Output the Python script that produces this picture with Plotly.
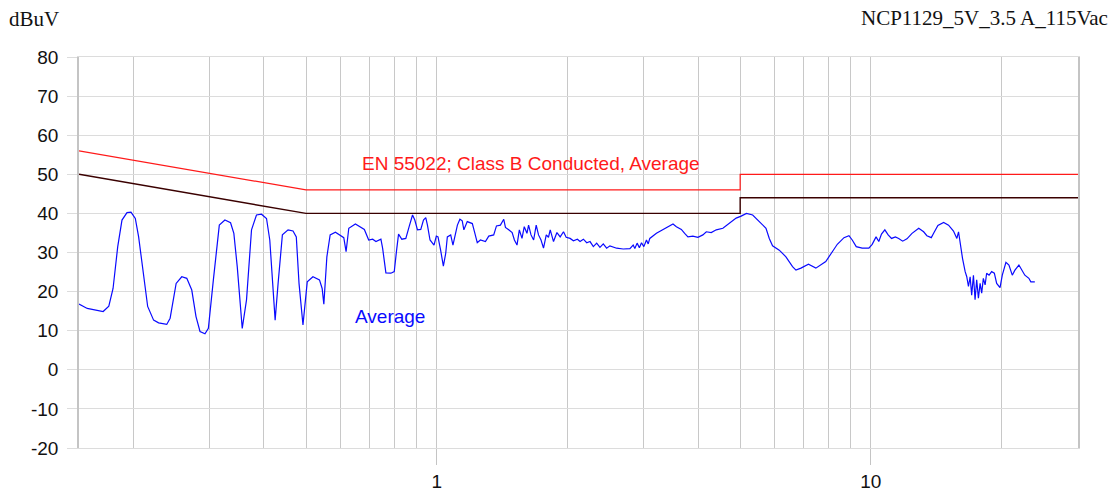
import math
import plotly.graph_objects as go

# ---- data ----
freq_mhz = [
    0.150, 0.1567, 0.1705, 0.1757, 0.1797, 0.1842, 0.1884, 0.1935, 0.1976, 0.2022,
    0.2058, 0.2106, 0.2159, 0.2228, 0.2288, 0.2389, 0.2432, 0.2511, 0.2587, 0.2657,
    0.2728, 0.2790, 0.2850, 0.2926, 0.2979, 0.3059, 0.3157, 0.3252, 0.3351, 0.3410,
    0.3472, 0.3565, 0.3647, 0.3745, 0.3845, 0.3948, 0.4055, 0.4126, 0.4245, 0.4312,
    0.4411, 0.4546, 0.4667, 0.4749, 0.4818, 0.4920, 0.5033, 0.5187, 0.5370, 0.5447,
    0.5496, 0.5585, 0.5683, 0.5844, 0.6022, 0.6109, 0.6184, 0.6273, 0.6497, 0.6694,
    0.6813, 0.6973, 0.7120, 0.7246, 0.7438, 0.7506, 0.7638, 0.7843, 0.7984, 0.8084,
    0.8168, 0.8312, 0.8489, 0.8640, 0.8797, 0.8903, 0.9031, 0.9190, 0.9322, 0.9436,
    0.9521, 0.9652, 0.9858, 0.998, 1.007, 1.021, 1.036, 1.049, 1.058, 1.077,
    1.090, 1.116, 1.131, 1.145, 1.155, 1.176, 1.208, 1.222, 1.240, 1.261,
    1.295, 1.318, 1.353, 1.373, 1.402, 1.427, 1.440, 1.465, 1.492, 1.510,
    1.531, 1.550, 1.572, 1.591, 1.614, 1.628, 1.649, 1.672, 1.695, 1.716,
    1.739, 1.762, 1.788, 1.809, 1.826, 1.858, 1.892, 1.925, 1.959, 1.987,
    2.029, 2.065, 2.109, 2.139, 2.177, 2.216, 2.255, 2.295, 2.336, 2.377,
    2.419, 2.463, 2.506, 2.597, 2.689, 2.786, 2.835, 2.860, 2.895, 2.930,
    2.963, 3.000, 3.042, 3.070, 3.096, 3.207, 3.321, 3.441, 3.502, 3.565,
    3.660, 3.725, 3.790, 3.892, 3.996, 4.103, 4.178, 4.289, 4.405, 4.562,
    4.726, 4.895, 5.026, 5.170, 5.343, 5.485, 5.632, 5.734, 5.835, 5.937,
    6.152, 6.374, 6.601, 6.721, 6.901, 7.183, 7.470, 7.873, 8.152, 8.370,
    8.672, 8.903, 9.060, 9.254, 9.550, 9.895, 10.07, 10.28, 10.43, 10.58,
    10.77, 10.96, 11.16, 11.39, 11.59, 11.84, 12.11, 12.44, 12.89, 13.23,
    13.46, 13.78, 13.95, 14.27, 14.71, 15.10, 15.50, 15.78, 15.92, 16.06,
    16.26, 16.49, 16.63, 16.78, 16.93, 17.07, 17.23, 17.38, 17.53, 17.69,
    17.85, 18.00, 18.16, 18.33, 18.48, 18.72, 18.98, 19.25, 19.49, 19.84,
    20.08, 20.47, 20.80, 21.17, 21.47, 21.93, 22.23, 22.63, 23.12, 23.36,
    23.86,
]
average_dbuv = [
    16.8, 15.7, 14.9, 16.3, 20.8, 31.5, 38.3, 40.2, 40.3, 38.7,
    34.0, 24.7, 16.2, 12.7, 12.0, 11.6, 13.2, 22.1, 23.8, 23.4,
    20.4, 13.6, 9.8, 9.2, 10.6, 23.0, 37.0, 38.3, 37.6, 34.9,
    26.4, 10.6, 17.9, 35.8, 39.6, 39.8, 38.7, 33.2, 12.7, 22.1,
    34.5, 35.8, 35.5, 34.0, 22.1, 11.5, 22.5, 23.8, 23.0, 20.8,
    16.8, 28.9, 34.5, 35.2, 34.2, 33.8, 30.2, 36.2, 37.3, 36.4,
    35.9, 33.2, 33.4, 32.8, 33.4, 31.1, 24.8, 24.7, 25.1, 30.6,
    34.7, 33.4, 33.6, 36.6, 39.6, 38.3, 35.8, 35.9, 38.3, 38.9,
    37.0, 33.2, 31.9, 34.2, 34.0, 30.6, 26.5, 29.8, 34.0, 34.5,
    31.9, 37.0, 38.5, 38.1, 35.8, 37.9, 37.4, 35.3, 32.5, 33.2,
    32.8, 34.2, 34.5, 36.8, 37.0, 38.5, 36.4, 35.8, 35.1, 33.2,
    31.9, 35.8, 33.6, 36.6, 34.9, 37.0, 34.5, 33.2, 37.0, 34.5,
    33.2, 31.1, 34.5, 33.9, 35.8, 32.8, 35.1, 34.0, 35.3, 33.9,
    33.6, 33.0, 33.4, 32.8, 33.4, 32.5, 32.8, 31.5, 32.4, 31.3,
    32.2, 31.1, 31.7, 31.1, 30.9, 31.0, 31.9, 31.0, 32.4, 31.2,
    32.5, 31.5, 33.2, 32.2, 33.6, 34.9, 35.9, 36.8, 37.3, 36.6,
    35.9, 34.9, 34.0, 34.2, 33.9, 34.5, 35.3, 35.1, 35.8, 36.2,
    37.5, 38.8, 39.3, 40.0, 39.6, 38.3, 36.9, 36.2, 33.6, 31.7,
    30.6, 28.9, 26.4, 25.5, 26.0, 27.0, 26.0, 27.7, 30.2, 32.1,
    33.8, 34.3, 33.2, 31.5, 31.1, 31.1, 32.1, 34.0, 32.8, 34.7,
    35.8, 34.5, 33.6, 34.0, 33.6, 32.9, 33.5, 34.9, 36.2, 35.3,
    34.3, 33.8, 34.9, 36.9, 37.7, 37.0, 35.5, 33.6, 35.3, 31.9,
    28.5, 25.1, 23.8, 21.3, 23.8, 19.1, 24.2, 17.9, 23.0, 18.3,
    22.1, 19.6, 23.4, 21.7, 24.7, 24.2, 25.1, 24.7, 22.1, 21.0,
    24.2, 27.5, 26.8, 24.2, 25.5, 26.8, 25.5, 24.2, 23.4, 22.5,
    22.5,
]

limit_freq = [0.15, 0.5, 0.5, 5.0, 5.0, 30.0]
limit_avg = [56, 46, 46, 46, 50, 50]
limit_margin = [50, 40, 40, 40, 44, 44]

grid_freqs = [0.15, 0.2, 0.3, 0.4, 0.5, 0.6, 0.7, 0.8, 0.9, 1, 2, 3, 4, 5, 6, 7, 8, 9,
              10, 20, 30]
x_tick_vals = [1, 10]
x_tick_text = ["1", "10"]
y_ticks = [-20, -10, 0, 10, 20, 30, 40, 50, 60, 70, 80]
y_tick_text = ["-20", "-10", "0", "10", "20", "30", "40", "50", "60", "70", "80"]

title_left = "dBuV"
title_right = "NCP1129_5V_3.5 A_115Vac"
limit_label = "EN 55022; Class B Conducted, Average"
trace_label = "Average"

# ---- figure ----
fig = go.Figure()
fig.add_trace(go.Scatter(x=limit_freq, y=limit_margin, mode="lines",
                         line=dict(color="#3a0000", width=1.4), showlegend=False,
                         hoverinfo="skip"))
fig.add_trace(go.Scatter(x=limit_freq, y=limit_avg, mode="lines",
                         line=dict(color="#ff1a1a", width=1.2), showlegend=False,
                         hoverinfo="skip"))
fig.add_trace(go.Scatter(x=freq_mhz, y=average_dbuv, mode="lines",
                         line=dict(color="#0a0aff", width=1.2), showlegend=False))

L, R, T, B = 79, 36, 57, 50
W, H = 1114, 498
pw, ph = W - L - R, H - T - B


def px_x(px):
    return (px - L) / pw


def px_y(py):
    return (H - B - py) / ph


fig.update_layout(
    width=W, height=H,
    margin=dict(l=L, r=R, t=T, b=B, autoexpand=False),
    paper_bgcolor="white", plot_bgcolor="white",
    font=dict(family="Liberation Sans, Arial, sans-serif", size=19, color="#111111"),
    xaxis=dict(
        type="log",
        range=[math.log10(limit_freq[0]), math.log10(limit_freq[-1])],
        tickvals=x_tick_vals, ticktext=x_tick_text,
        ticks="outside", ticklen=16, tickcolor="#c4c4c4", tickwidth=1,
        ticklabelstandoff=0,
        showgrid=True, gridcolor="#c8c8c8", gridwidth=1.3,
        minor=dict(tickvals=grid_freqs, showgrid=True, gridcolor="#c8c8c8",
                   gridwidth=1.3, ticks=""),
        showline=True, mirror=True, linecolor="#dcdcdc", linewidth=1.3,
        zeroline=False, automargin=False,
    ),
    yaxis=dict(
        range=[y_ticks[0], y_ticks[-1]],
        tickvals=y_ticks, ticktext=y_tick_text,
        ticks="outside", ticklen=10, tickcolor="#dcdcdc", tickwidth=1.3,
        ticklabelstandoff=5,
        showgrid=True, gridcolor="#dcdcdc", gridwidth=1.3,
        showline=True, mirror=True, linecolor="#c4c4c4", linewidth=1.6,
        zeroline=False, automargin=False,
    ),
    annotations=[
        dict(text=title_left, xref="paper", yref="paper", x=px_x(7), y=px_y(19),
             xanchor="left", yanchor="middle", showarrow=False,
             font=dict(family="Liberation Serif, Times New Roman, serif", size=21,
                       color="#111111")),
        dict(text=title_right, xref="paper", yref="paper", x=px_x(1110), y=px_y(18),
             xanchor="right", yanchor="middle", showarrow=False,
             font=dict(family="Liberation Serif, Times New Roman, serif", size=21,
                       color="#111111")),
        dict(text=limit_label, xref="paper", yref="paper", x=px_x(531), y=px_y(163),
             xanchor="center", yanchor="middle", showarrow=False,
             font=dict(size=19, color="#ff1a1a")),
        dict(text=trace_label, xref="paper", yref="paper", x=px_x(390), y=px_y(316),
             xanchor="center", yanchor="middle", showarrow=False,
             font=dict(size=19, color="#0a0aff")),
    ],
)

fig.write_html(
    "out.html",
    config={"displayModeBar": False},
    post_script="document.body.style.margin='0';document.body.style.overflow='hidden';",
)
